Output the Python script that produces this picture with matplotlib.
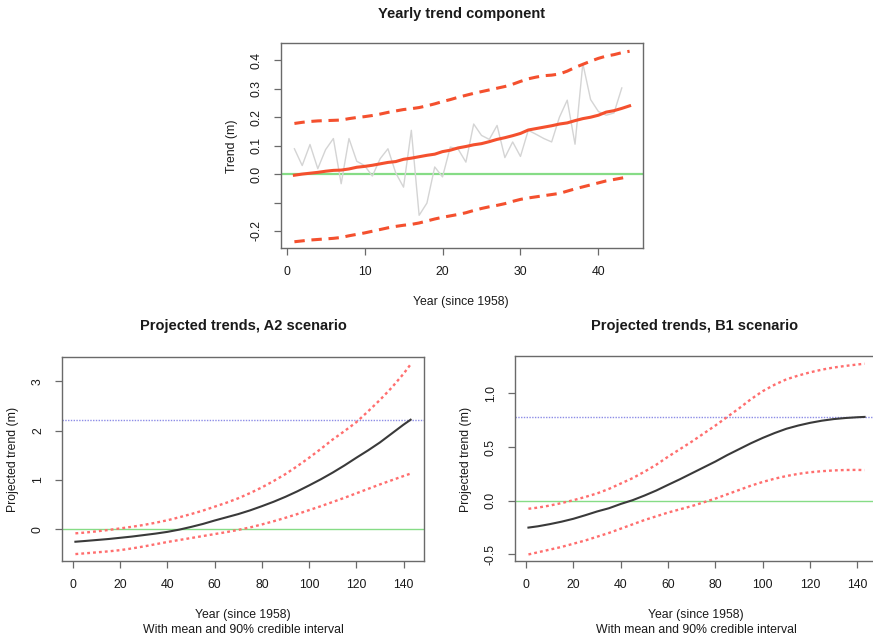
import matplotlib
matplotlib.use("Agg")
import matplotlib.pyplot as plt
import numpy as np

plt.rcParams["font.family"] = ["Liberation Sans", "DejaVu Sans"]
plt.rcParams["axes.unicode_minus"] = False

# ---- Yearly trend component (years since 1958) ----
obs_years = list(range(1, 44))
obs_values = [0.089, 0.030, 0.104, 0.019, 0.086, 0.125, -0.034, 0.125, 0.045, 0.030,
              -0.007, 0.054, 0.089, 0.004, -0.046, 0.154, -0.145, -0.102, 0.025, -0.010,
              0.095, 0.088, 0.042, 0.176, 0.136, 0.122, 0.171, 0.058, 0.113, 0.062,
              0.154, 0.140, 0.125, 0.113, 0.200, 0.260, 0.105, 0.389, 0.262, 0.220,
              0.207, 0.215, 0.303]

trend_years = list(range(1, 45))
trend_mean = [-0.004, 0.000, 0.003, 0.006, 0.010, 0.013, 0.014, 0.018, 0.024, 0.027,
              0.031, 0.036, 0.041, 0.044, 0.052, 0.056, 0.061, 0.066, 0.070, 0.079,
              0.084, 0.092, 0.097, 0.103, 0.107, 0.114, 0.122, 0.128, 0.135, 0.143,
              0.155, 0.160, 0.165, 0.170, 0.176, 0.180, 0.188, 0.195, 0.200, 0.207,
              0.218, 0.223, 0.231, 0.240]
trend_upper = [0.178, 0.182, 0.185, 0.187, 0.188, 0.189, 0.190, 0.195, 0.199, 0.202,
               0.206, 0.211, 0.217, 0.222, 0.227, 0.230, 0.234, 0.240, 0.247, 0.255,
               0.262, 0.270, 0.277, 0.284, 0.290, 0.296, 0.302, 0.308, 0.316, 0.326,
               0.335, 0.341, 0.346, 0.348, 0.352, 0.362, 0.375, 0.386, 0.397, 0.407,
               0.415, 0.420, 0.427, 0.432]
trend_lower = [-0.238, -0.235, -0.232, -0.230, -0.228, -0.226, -0.223, -0.217, -0.212, -0.207,
               -0.201, -0.195, -0.189, -0.184, -0.180, -0.177, -0.172, -0.165, -0.158, -0.152,
               -0.147, -0.142, -0.136, -0.128, -0.121, -0.115, -0.110, -0.104, -0.096, -0.089,
               -0.084, -0.080, -0.076, -0.072, -0.068, -0.060, -0.052, -0.045, -0.038, -0.031,
               -0.024, -0.019, -0.014, -0.009]

# ---- Projections ----
proj_years = [1, 5, 10, 15, 20, 25, 30, 35, 40, 45, 50, 55, 60, 65, 70,
              75, 80, 85, 90, 95, 100, 105, 110, 115, 120, 125, 130, 135, 140, 143]

a2_mean = [-0.25, -0.235, -0.215, -0.195, -0.17, -0.145, -0.115, -0.085, -0.05, -0.005,
           0.05, 0.11, 0.18, 0.245, 0.31, 0.385, 0.47, 0.56, 0.66, 0.77,
           0.89, 1.015, 1.15, 1.295, 1.45, 1.60, 1.76, 1.94, 2.12, 2.22]
a2_upper = [-0.08, -0.065, -0.04, -0.012, 0.02, 0.053, 0.09, 0.135, 0.185, 0.245,
            0.31, 0.38, 0.46, 0.54, 0.63, 0.735, 0.85, 0.98, 1.12, 1.28,
            1.45, 1.63, 1.82, 1.99, 2.17, 2.39, 2.62, 2.87, 3.15, 3.34]
a2_lower = [-0.50, -0.485, -0.465, -0.445, -0.42, -0.385, -0.345, -0.30, -0.255, -0.215,
            -0.175, -0.135, -0.095, -0.055, -0.01, 0.04, 0.10, 0.165, 0.235, 0.31,
            0.39, 0.47, 0.555, 0.64, 0.73, 0.82, 0.91, 0.995, 1.08, 1.13]
a2_final = 2.22

b1_mean = [-0.25, -0.238, -0.218, -0.195, -0.168, -0.135, -0.10, -0.07, -0.03, 0.005,
           0.048, 0.095, 0.148, 0.20, 0.255, 0.31, 0.365, 0.425, 0.48, 0.535,
           0.585, 0.63, 0.67, 0.70, 0.725, 0.745, 0.76, 0.77, 0.777, 0.78]
b1_upper = [-0.075, -0.064, -0.045, -0.022, 0.005, 0.035, 0.068, 0.11, 0.16, 0.21,
            0.27, 0.335, 0.41, 0.48, 0.55, 0.625, 0.70, 0.78, 0.86, 0.945,
            1.02, 1.08, 1.13, 1.165, 1.195, 1.22, 1.24, 1.255, 1.268, 1.275]
b1_lower = [-0.50, -0.48, -0.455, -0.43, -0.40, -0.37, -0.335, -0.30, -0.26, -0.22,
            -0.18, -0.145, -0.11, -0.08, -0.05, -0.015, 0.02, 0.06, 0.10, 0.14,
            0.175, 0.205, 0.23, 0.25, 0.265, 0.275, 0.282, 0.286, 0.287, 0.285]
b1_final = 0.78

RED = "#f4502e"
PINK = "#ff6e6e"
GREEN = "#86dc86"
BLUE = "#8c8ce6"
GREY = "#d4d4d4"
FRAME = "#6a6a6a"
TXT = "#1a1a1a"
FS = 8.8

fig = plt.figure(figsize=(8.73, 6.38), dpi=100)
W, H = 873.0, 638.0


def place(left, top, right, bottom):
    return fig.add_axes([left / W, 1 - bottom / H, (right - left) / W, (bottom - top) / H])


def style(ax):
    for s in ax.spines.values():
        s.set_color(FRAME)
        s.set_linewidth(1.0)
    ax.tick_params(direction="out", length=5, width=0.9, color=FRAME,
                   labelsize=FS, labelcolor=TXT, pad=8)
    for lab in ax.get_yticklabels():
        lab.set_rotation(90)
        lab.set_va("center")


def ftext(x, y, s, **kw):
    fig.text(x / W, 1 - y / H, s, ha="center", va="center", color=TXT, **kw)


# Top panel
ax0 = place(281, 43, 643, 248)
ax0.axhline(0, color=GREEN, lw=1.6, zorder=1)
ax0.plot(obs_years, obs_values, color=GREY, lw=1.0, zorder=2)
ax0.plot(trend_years, trend_mean, color=RED, lw=2.2, zorder=3)
ax0.plot(trend_years, trend_upper, color=RED, lw=2.2, dashes=(3.4, 2.2), zorder=3)
ax0.plot(trend_years, trend_lower, color=RED, lw=2.2, dashes=(3.4, 2.2), zorder=3)
ax0.set_xlim(-0.72, 45.72)
ax0.set_ylim(-0.26, 0.461)
ax0.set_xticks([0, 10, 20, 30, 40])
ax0.set_yticks([-0.2, -0.1, 0.0, 0.1, 0.2, 0.3, 0.4])
ax0.set_yticklabels(["-0.2", "", "0.0", "0.1", "0.2", "0.3", "0.4"])
style(ax0)
ftext(462, 14, "Yearly trend component", fontsize=10.5, fontweight="bold")
ftext(461, 302, "Year (since 1958)", fontsize=FS)
ftext(232, 146, "Trend (m)", fontsize=FS, rotation=90)


def projection(ax, mean, upper, lower, final):
    ax.axhline(0, color=GREEN, lw=1.0, zorder=1)
    ax.axhline(final, color=BLUE, lw=1.0, ls=(0, (1, 1)), zorder=1)
    ax.plot(proj_years, upper, color=PINK, lw=1.7, ls=(0, (1.2, 1.3)), zorder=2)
    ax.plot(proj_years, lower, color=PINK, lw=1.7, ls=(0, (1.2, 1.3)), zorder=2)
    ax.plot(proj_years, mean, color="#3a3a3a", lw=1.5, zorder=3)
    ax.set_xlim(-4.68, 148.68)
    ax.set_xticks(np.arange(0, 141, 20))


ax1 = place(62, 357, 424, 561)
projection(ax1, a2_mean, a2_upper, a2_lower, a2_final)
ax1.set_ylim(-0.64, 3.49)
ax1.set_yticks([0, 1, 2, 3])
style(ax1)
ftext(243, 326, "Projected trends, A2 scenario", fontsize=10.5, fontweight="bold")
ftext(243, 615, "Year (since 1958)", fontsize=FS)
ftext(243, 630, "With mean and 90% credible interval", fontsize=FS)
ftext(13, 459, "Projected trend (m)", fontsize=FS, rotation=90)

ax2 = place(515, 356, 878, 561)
projection(ax2, b1_mean, b1_upper, b1_lower, b1_final)
ax2.set_ylim(-0.561, 1.347)
ax2.set_yticks([-0.5, 0.0, 0.5, 1.0])
ax2.set_yticklabels(["-0.5", "0.0", "0.5", "1.0"])
style(ax2)
ftext(695, 326, "Projected trends, B1 scenario", fontsize=10.5, fontweight="bold")
ftext(696, 615, "Year (since 1958)", fontsize=FS)
ftext(696, 630, "With mean and 90% credible interval", fontsize=FS)
ftext(466, 459, "Projected trend (m)", fontsize=FS, rotation=90)

fig.savefig("out.png", dpi=100)
